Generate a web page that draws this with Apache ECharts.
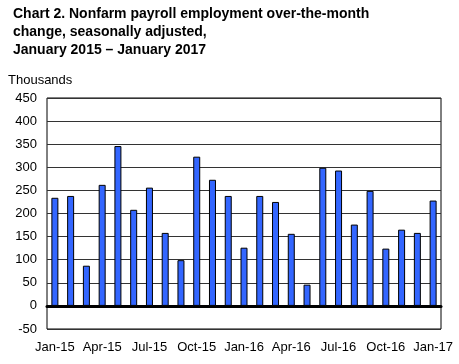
<!DOCTYPE html>
<html><head><meta charset="utf-8">
<script src="https://cdn.jsdelivr.net/npm/echarts@6/dist/echarts.min.js"></script>
<style>html,body{margin:0;padding:0;background:#fff}#c{width:459px;height:364px}</style>
</head><body><div id="c"></div>
<script>
const categories = ["Jan-15","Feb-15","Mar-15","Apr-15","May-15","Jun-15","Jul-15","Aug-15","Sep-15","Oct-15","Nov-15","Dec-15","Jan-16","Feb-16","Mar-16","Apr-16","May-16","Jun-16","Jul-16","Aug-16","Sep-16","Oct-16","Nov-16","Dec-16","Jan-17"];
const values = [234,238,87,262,346,208,256,158,99,323,273,238,126,238,225,156,46,299,293,176,249,124,165,158,228];
const yTicks = {min:-50, max:450, interval:50};
const FONT = '"Liberation Sans", Arial, sans-serif';
const chart = echarts.init(document.getElementById('c'), null, {renderer:'canvas'});
chart.setOption({
  animation:false,
  title:{text:'Chart 2. Nonfarm payroll employment over-the-month\nchange, seasonally adjusted,\nJanuary 2015 – January 2017', left:8, top:0,
    textStyle:{fontFamily:FONT, fontSize:14, fontWeight:'bold', color:'#000', lineHeight:18}},
  graphic:[{type:'text', left:8, top:74, style:{text:'Thousands', font:'13px '+FONT, fill:'#000'}}],
  grid:{left:47, right:18, top:98, bottom:35, show:true, borderColor:'#000', borderWidth:1, containLabel:false, outerBoundsMode:'none'},
  xAxis:{type:'category', data:categories, boundaryGap:true,
    axisLine:{onZero:true, lineStyle:{color:'#000', width:3}},
    axisTick:{show:false},
    axisLabel:{interval:2, color:'#000', fontFamily:FONT, fontSize:13, margin:12}},
  yAxis:{type:'value', min:yTicks.min, max:yTicks.max, interval:yTicks.interval,
    axisLine:{show:false}, axisTick:{show:false},
    splitLine:{lineStyle:{color:'#333', width:1}},
    axisLabel:{color:'#000', fontFamily:FONT, fontSize:13, margin:10}},
  series:[{type:'bar', data:values, barWidth:7,
    itemStyle:{color:'#3366FF', borderColor:'#000', borderWidth:1}}]
});
</script></body></html>
